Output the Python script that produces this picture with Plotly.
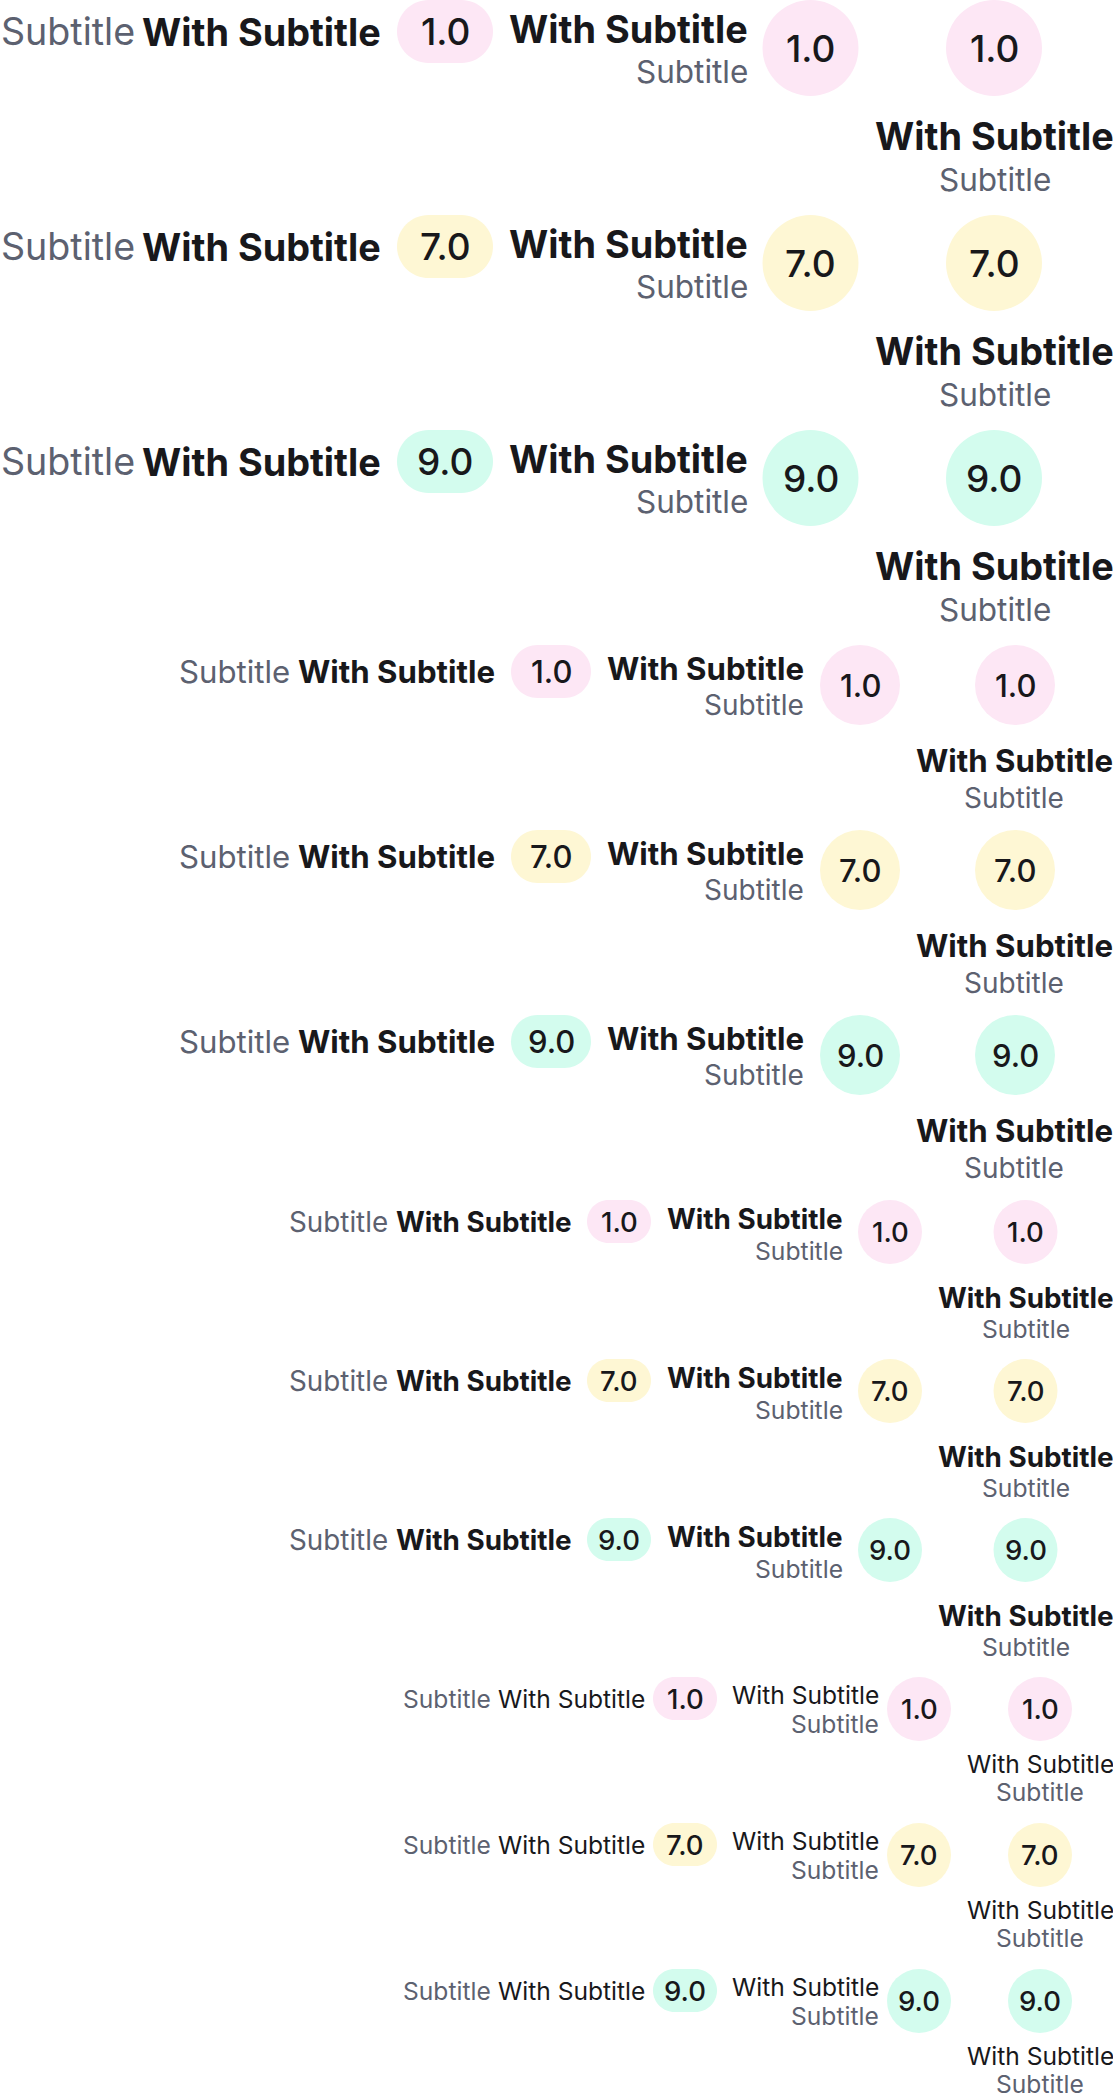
import plotly.graph_objects as go

W, H = 1113, 2099

# ---- data ----
sizes = ["lg", "md", "sm", "xs"]
scores = [1.0, 7.0, 9.0]
badge_colors = ["#fde7f5", "#fef7d4", "#d3fcee"]
title_label = "With Subtitle"
subtitle_label = "Subtitle"

# ---- layout / style per size (pixels) ----
STYLE = {
    "lg": dict(top=0, step=215, tf=37.8, tw=700, sh=37.6, sv=31.5, bf=37,
               px0=397, px1=493, ph=63, ht_r=379, hs_r=133,
               v_r=746, v_t=29, v_s=71.5, c1=810.5, c2=994, d=96,
               b_x=994.5, b_t=136, b_s=179),
    "md": dict(top=645, step=185, tf=31.2, tw=700, sh=31.2, sv=28, bf=31,
               px0=511, px1=591, ph=53, ht_r=493, hs_r=288,
               v_r=802, v_t=24, v_s=60, c1=860, c2=1015, d=80,
               b_x=1014, b_t=115.5, b_s=152.5),
    "sm": dict(top=1200, step=159, tf=27.8, tw=700, sh=27.8, sv=24.7, bf=27.5,
               px0=587, px1=651, ph=43, ht_r=570, hs_r=386,
               v_r=841, v_t=19, v_s=50.5, c1=890, c2=1025.5, d=64,
               b_x=1026, b_t=97.5, b_s=128.5),
    "xs": dict(top=1677, step=146, tf=24.6, tw=400, sh=24.6, sv=24.6, bf=27.5,
               px0=653, px1=717, ph=43, ht_r=643, hs_r=489,
               v_r=877, v_t=18, v_s=46.5, c1=919, c2=1040, d=64,
               b_x=1040, b_t=86.5, b_s=114.5),
}

FONT = "Inter"
DARK = "#18181b"
GRAY = "#5c6170"
RIGHT_FIX = 2.5  # annotation box padding compensation for right-anchored text


def pill_path(x0, x1, y0, y1):
    r = (y1 - y0) / 2.0
    k = 0.5523 * r
    xa, xb = x0 + r, x1 - r
    ym = (y0 + y1) / 2.0
    return (f"M {xa},{y0} L {xb},{y0} "
            f"C {xb + k},{y0} {x1},{ym - k} {x1},{ym} "
            f"C {x1},{ym + k} {xb + k},{y1} {xb},{y1} "
            f"L {xa},{y1} "
            f"C {xa - k},{y1} {x0},{ym + k} {x0},{ym} "
            f"C {x0},{ym - k} {xa - k},{y0} {xa},{y0} Z")


shapes = []
annotations = []


def text(x, y, s, size, color, weight=400, anchor="center"):
    if anchor == "right":
        x = x + RIGHT_FIX
    annotations.append(dict(
        x=x, y=y, xref="x", yref="y", text=s, showarrow=False,
        xanchor=anchor, yanchor="middle",
        font=dict(family=FONT, size=size, color=color, weight=weight),
        borderpad=0,
    ))


for size in sizes:
    st = STYLE[size]
    for i, score in enumerate(scores):
        T = st["top"] + i * st["step"]
        col = badge_colors[i]
        lbl = f"{score:.1f}"

        # horizontal item: Subtitle + Title + pill badge
        hm = T + st["ph"] / 2.0
        shapes.append(dict(type="path", xref="x", yref="y",
                           path=pill_path(st["px0"], st["px1"], T, T + st["ph"]),
                           fillcolor=col, line=dict(width=0), layer="below"))
        text((st["px0"] + st["px1"]) / 2.0, hm, lbl, st["bf"], DARK, 500)
        text(st["ht_r"], hm, title_label, st["tf"], DARK, st["tw"], "right")
        text(st["hs_r"], hm, subtitle_label, st["sh"], GRAY, 400, "right")

        # right-aligned stacked text + circle badge
        r = st["d"] / 2.0
        text(st["v_r"], T + st["v_t"], title_label, st["tf"], DARK, st["tw"], "right")
        text(st["v_r"], T + st["v_s"], subtitle_label, st["sv"], GRAY, 400, "right")
        shapes.append(dict(type="circle", xref="x", yref="y",
                           x0=st["c1"] - r, x1=st["c1"] + r, y0=T, y1=T + st["d"],
                           fillcolor=col, line=dict(width=0), layer="below"))
        text(st["c1"], T + r, lbl, st["bf"], DARK, 500)

        # circle badge with centered text below
        shapes.append(dict(type="circle", xref="x", yref="y",
                           x0=st["c2"] - r, x1=st["c2"] + r, y0=T, y1=T + st["d"],
                           fillcolor=col, line=dict(width=0), layer="below"))
        text(st["c2"], T + r, lbl, st["bf"], DARK, 500)
        text(st["b_x"], T + st["b_t"], title_label, st["tf"], DARK, st["tw"])
        text(st["b_x"], T + st["b_s"], subtitle_label, st["sv"], GRAY, 400)

fig = go.Figure()
fig.update_layout(
    width=W, height=H,
    margin=dict(l=0, r=0, t=0, b=0, pad=0),
    paper_bgcolor="white", plot_bgcolor="white",
    xaxis=dict(range=[0, W], visible=False, fixedrange=True),
    yaxis=dict(range=[H, 0], visible=False, fixedrange=True),
    shapes=shapes, annotations=annotations,
    showlegend=False,
)

fig.write_html("out.html", config={"displayModeBar": False},
               post_script="document.body.style.margin='0';document.body.style.overflow='hidden';")
